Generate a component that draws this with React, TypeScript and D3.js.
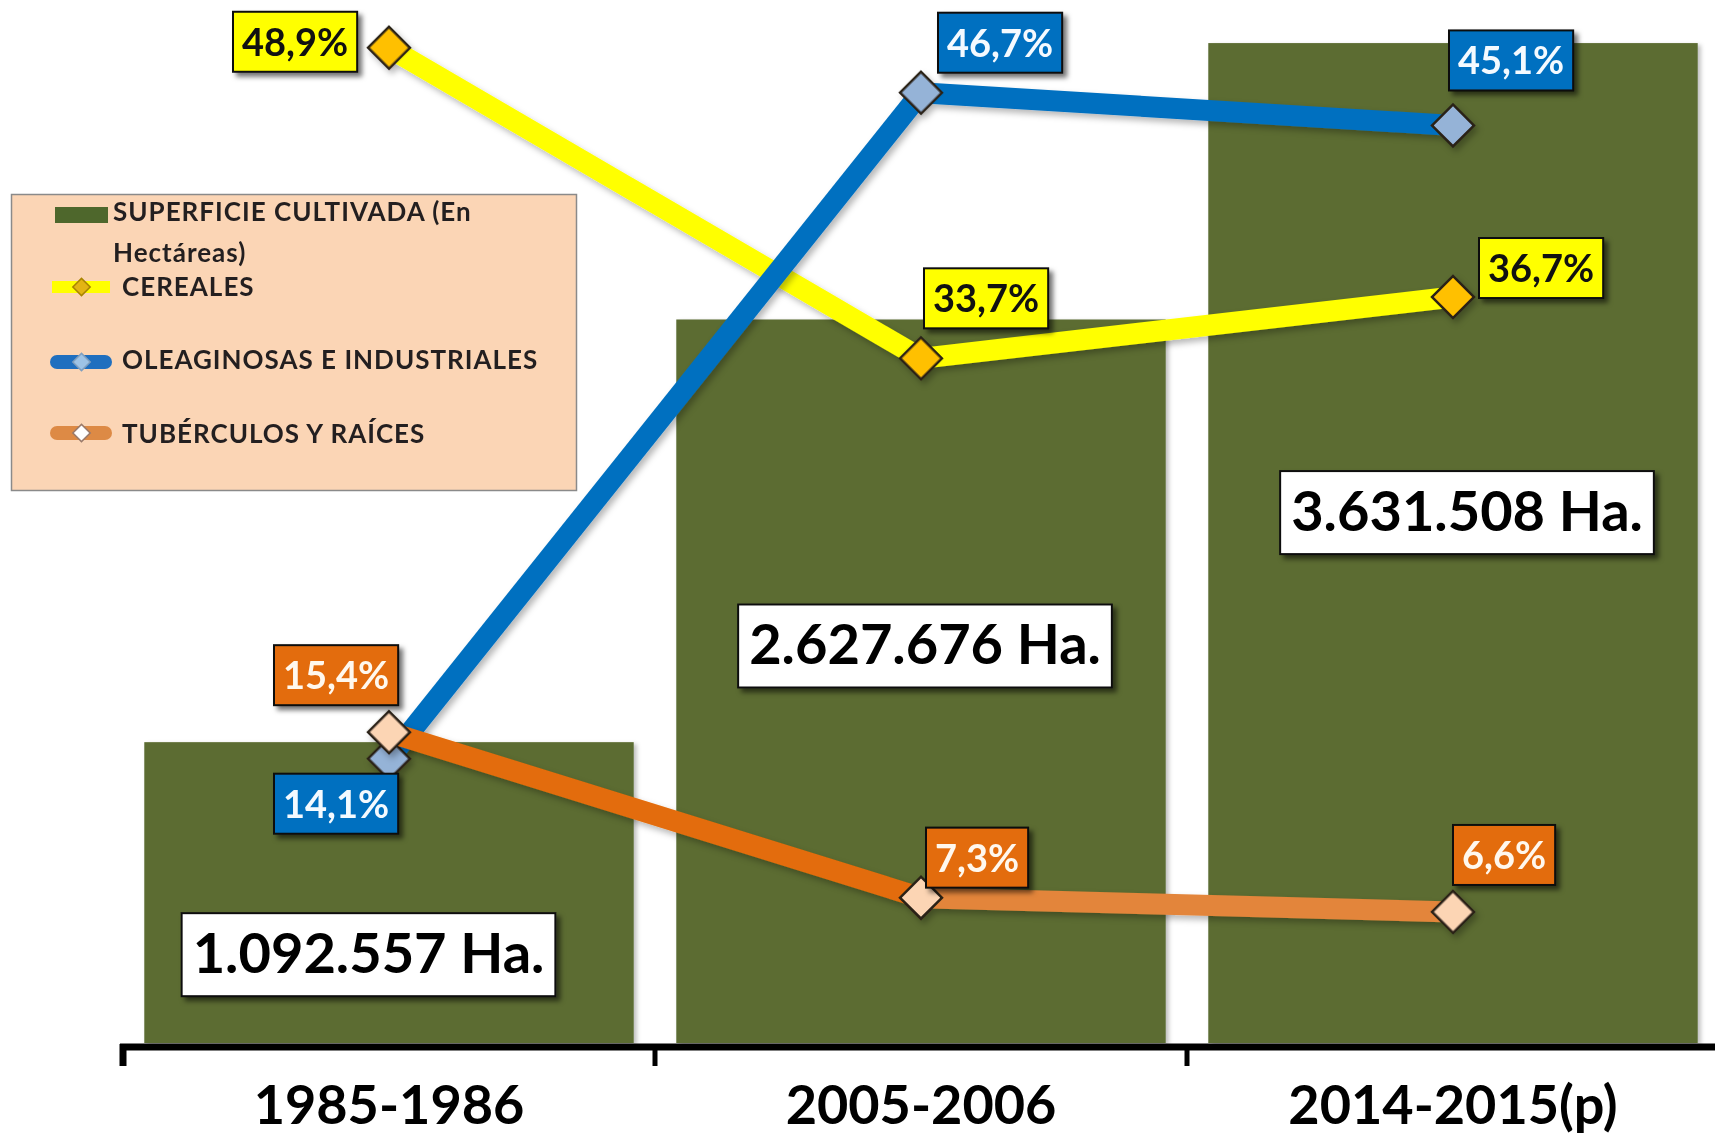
import React from "react";
import * as d3 from "d3";

const categories = ["1985-1986", "2005-2006", "2014-2015(p)"];
const superficie = [1092557, 2627676, 3631508];
const cereales = [48.9, 33.7, 36.7];
const oleaginosas = [14.1, 46.7, 45.1];
const tuberculos = [15.4, 7.3, 6.6];
const legendLabels = [
  ["SUPERFICIE CULTIVADA (En", "Hectáreas)"],
  ["CEREALES"],
  ["OLEAGINOSAS E INDUSTRIALES"],
  ["TUBÉRCULOS Y RAÍCES"],
];

const W = 1715;
const H = 1139;
const FONT = "Lato, 'Open Sans', sans-serif";

let ctx: CanvasRenderingContext2D | null = null;
function measure(text: string, size: number) {
  if (!ctx) {
    const c = document.createElement("canvas");
    ctx = c.getContext("2d");
  }
  if (!ctx) return text.length * size * 0.55;
  ctx.font = `bold ${size}px Lato`;
  return ctx.measureText(text).width;
}

const fmtPct = (v: number) => d3.format(".1f")(v).replace(".", ",") + "%";
const fmtHa = (v: number) => d3.format(",")(v).replace(/,/g, ".") + " Ha.";

export default function App() {
  const x = d3
    .scaleBand<string>()
    .domain(categories)
    .range([123, 1719])
    .paddingInner(0.08)
    .paddingOuter(0.04);
  const cx = (c: string) => (x(c) as number) + x.bandwidth() / 2;
  const yBar = d3.scaleLinear().domain([0, 3788000]).range([1043, 0]);
  const yPct = d3.scaleLinear().domain([0, 50]).range([1046.8, 25.3]);

  const series = [
    {
      key: "cer",
      values: cereales,
      colors: ["#FFFF00", "#FFFF00"],
      marker: "#FFC000",
      boxFill: "#FFFF00",
      textFill: "#111",
      offsets: [
        [-156, -36],
        [3, -90],
        [26, -59],
      ],
    },
    {
      key: "ole",
      values: oleaginosas,
      colors: ["#0070C0", "#0070C0"],
      marker: "#95B3D7",
      boxFill: "#0070C0",
      textFill: "#F4FAFF",
      offsets: [
        [-115, 15],
        [17, -80],
        [-4, -95],
      ],
    },
    {
      key: "tub",
      values: tuberculos,
      colors: ["#E36C09", "#E3853A"],
      marker: "#FCD5B4",
      boxFill: "#E36C09",
      textFill: "#FFF8EE",
      offsets: [
        [-115, -87],
        [5, -70],
        [0, -87],
      ],
    },
  ];

  const haLayout = [
    [-20.5, 171],
    [4, 285],
    [14, 428],
  ];

  const diamond = d3.symbol(d3.symbolSquare, 880)() as string;
  const smallDiamond = d3.symbol(d3.symbolSquare, 150)() as string;

  const pctSize = 38;
  const haSize = 56;

  const boundaries = [0, 1, 2].map((i) => 123 + i * x.step());

  return (
    <svg
      width={W}
      height={H}
      style={{ position: "absolute", left: 0, top: 0, background: "#fff" }}
      fontFamily={FONT}
    >
      <defs>
        <filter id="boxShadow" x="-20%" y="-30%" width="150%" height="170%">
          <feDropShadow dx="4" dy="4" stdDeviation="2.5" floodColor="#000" floodOpacity="0.55" />
        </filter>
        <filter id="lineShadow" x="-10%" y="-10%" width="130%" height="130%">
          <feDropShadow dx="3" dy="4" stdDeviation="3" floodColor="#000" floodOpacity="0.28" />
        </filter>
        <filter id="barShadow" x="-5%" y="-5%" width="115%" height="115%">
          <feDropShadow dx="3" dy="2" stdDeviation="2" floodColor="#000" floodOpacity="0.25" />
        </filter>
      </defs>
      <rect x={0} y={0} width={W} height={H} fill="#fff" />

      {/* bars */}
      {categories.map((c, i) => (
        <rect
          key={c}
          x={x(c)}
          y={yBar(superficie[i])}
          width={x.bandwidth()}
          height={yBar(0) - yBar(superficie[i])}
          fill="#5B6C31"
          filter="url(#barShadow)"
        />
      ))}

      {/* axis */}
      <line x1={120} x2={W} y1={1047} y2={1047} stroke="#000" strokeWidth={7} />
      {boundaries.map((bx, i) => (
        <line key={i} x1={bx} x2={bx} y1={1044} y2={1066} stroke="#000" strokeWidth={i === 0 ? 7 : 5} />
      ))}
      {categories.map((c) => (
        <text
          key={c}
          x={cx(c)}
          y={1124}
          textAnchor="middle"
          fontSize={54}
          fontWeight="bold"
          fill="#000"
        >
          {c}
        </text>
      ))}

      {/* lines */}
      {series.map((s) => (
        <g key={s.key} filter="url(#lineShadow)">
          {s.values.slice(1).map((v, i) => (
            <line
              key={i}
              x1={cx(categories[i])}
              y1={yPct(s.values[i])}
              x2={cx(categories[i + 1])}
              y2={yPct(v)}
              stroke={s.colors[i]}
              strokeWidth={21}
            />
          ))}
          {s.values.map((v, i) => (
            <path
              key={"m" + i}
              d={diamond}
              transform={`translate(${cx(categories[i])},${yPct(v)}) rotate(45)`}
              fill={s.marker}
              stroke="#2a2118"
              strokeWidth={2.5}
            />
          ))}
        </g>
      ))}

      {/* percentage labels */}
      {series.map((s) =>
        s.values.map((v, i) => {
          const t = fmtPct(v);
          const w = measure(t, pctSize) + 18;
          const bx = cx(categories[i]) + s.offsets[i][0];
          const by = yPct(v) + s.offsets[i][1];
          return (
            <g key={s.key + "l" + i}>
              <rect
                x={bx}
                y={by}
                width={w}
                height={60}
                fill={s.boxFill}
                stroke="#111"
                strokeWidth={2}
                filter="url(#boxShadow)"
              />
              <text
                x={bx + w / 2}
                y={by + 44}
                textAnchor="middle"
                fontSize={pctSize}
                fontWeight="bold"
                fill={s.textFill}
              >
                {t}
              </text>
            </g>
          );
        })
      )}

      {/* hectare labels */}
      {categories.map((c, i) => {
        const t = fmtHa(superficie[i]);
        const w = measure(t, haSize) + 22;
        const bcx = cx(c) + haLayout[i][0];
        const by = yBar(superficie[i]) + haLayout[i][1];
        return (
          <g key={"ha" + c}>
            <rect
              x={bcx - w / 2}
              y={by}
              width={w}
              height={83}
              fill="#fff"
              stroke="#111"
              strokeWidth={2}
              filter="url(#boxShadow)"
            />
            <text
              x={bcx}
              y={by + 60}
              textAnchor="middle"
              fontSize={haSize}
              fontWeight="bold"
              fill="#000"
            >
              {t}
            </text>
          </g>
        );
      })}

      {/* legend */}
      <g>
        <rect x={11.5} y={194.5} width={565} height={296} fill="#FBD5B5" stroke="#8a8a8a" strokeWidth={1.5} />
        <rect x={55} y={207} width={53} height={16} fill="#4E672C" />
        <g fontSize={26} fontWeight="bold" fill="#231f20" letterSpacing={1}>
          <text x={113} y={221}>{legendLabels[0][0]}</text>
          <text x={113} y={262}>{legendLabels[0][1]}</text>
          <text x={122} y={296}>{legendLabels[1][0]}</text>
          <text x={122} y={369}>{legendLabels[2][0]}</text>
          <text x={122} y={443}>{legendLabels[3][0]}</text>
        </g>
        <line x1={52} x2={110} y1={287} y2={287} stroke="#FFFF00" strokeWidth={12} />
        <path d={smallDiamond} transform="translate(81.5,287) rotate(45)" fill="#E3B414" stroke="#A88400" strokeWidth={1.5} />
        <line x1={57} x2={105} y1={362} y2={362} stroke="#1F6FBF" strokeWidth={14} strokeLinecap="round" />
        <path d={smallDiamond} transform="translate(81.5,362) rotate(45)" fill="#9DC3E6" stroke="#7f9fbf" strokeWidth={1.5} />
        <line x1={57} x2={105} y1={433} y2={433} stroke="#DD8A45" strokeWidth={14} strokeLinecap="round" />
        <path d={smallDiamond} transform="translate(81.5,433) rotate(45)" fill="#FFFFFF" stroke="#9a7a6a" strokeWidth={1.5} />
      </g>
    </svg>
  );
}
